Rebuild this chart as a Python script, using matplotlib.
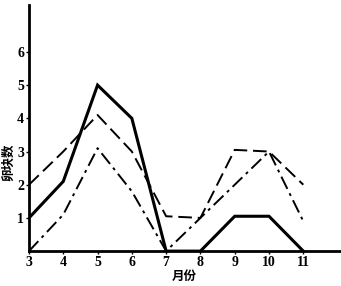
import matplotlib
matplotlib.use("Agg")
import matplotlib.pyplot as plt

# === Data ===
months = [3, 4, 5, 6, 7, 8, 9, 10, 11]
solid_vals = [1.0, 2.1, 5.0, 4.0, 0.0, 0.0, 1.05, 1.05, 0.0]
dashed_vals = [2.0, 3.0, 4.1, 3.0, 1.05, 1.0, 3.05, 3.0, 2.0]
dashdot_vals = [0.0, 1.1, 3.1, 1.8, 0.0, 1.0, 2.0, 3.0, 0.9]
yticks = [1, 2, 3, 4, 5, 6]

num_font = "Liberation Serif"
cjk_font = ["Noto Sans CJK SC", "DejaVu Sans"]

fig = plt.figure(figsize=(3.41, 2.86), dpi=100)
ax = fig.add_axes([0.085, 0.122, 0.913, 0.86])

# === Lines ===
ax.plot(months, solid_vals, color="black", lw=2.2, solid_joinstyle="miter")
ax.plot(months, dashed_vals, color="black", lw=1.4, linestyle=(0, (7, 3)))
ax.plot(months, dashdot_vals, color="black", lw=1.4, linestyle=(0, (7, 2.5, 1.5, 2.5)))

# === Axes styling ===
ax.set_xlim(3, 12.08)
ax.set_ylim(0, 7.41)
for s in ["top", "right"]:
    ax.spines[s].set_visible(False)
ax.spines["left"].set_linewidth(2.0)
ax.spines["bottom"].set_linewidth(2.0)

ax.set_xticks(months)
ax.set_xticklabels([str(m) for m in months], fontfamily=num_font, fontsize=10, fontweight="bold")
ax.set_yticks(yticks)
ax.set_yticklabels([str(v) for v in yticks], fontfamily=num_font, fontsize=10, fontweight="bold")
ax.tick_params(axis="both", length=2, width=1, pad=1.5)

ax.set_xlabel("月份", family=cjk_font, fontsize=9, fontweight="bold", labelpad=1)
ax.set_ylabel("卵块数", family=cjk_font, fontsize=9, fontweight="bold")
ax.yaxis.set_label_coords(-0.045, 0.36)

fig.savefig("out.png", dpi=100)
